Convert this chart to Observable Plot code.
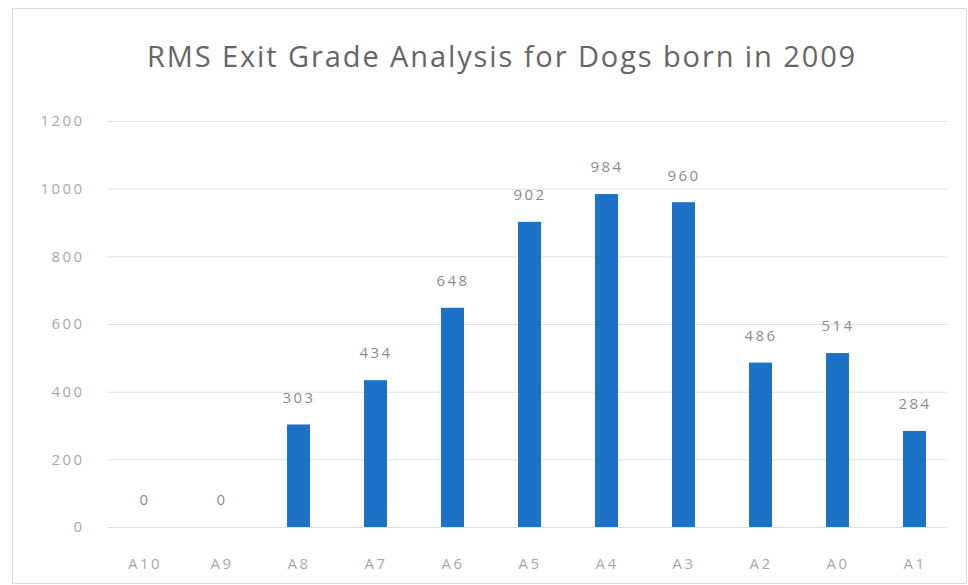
<!DOCTYPE html>
<html><head><meta charset="utf-8">
<script src="https://cdn.jsdelivr.net/npm/d3@7"></script>
<script src="https://cdn.jsdelivr.net/npm/@observablehq/plot@0.6"></script>
<style>
html,body{margin:0;padding:0;background:#fff;}
#wrap{position:relative;width:968px;height:585px;overflow:hidden;font-family:"Open Sans",sans-serif;}
#frame{position:absolute;left:12px;top:8px;width:955px;height:576px;border:1px solid #d9d9d9;box-sizing:border-box;}
#title{position:absolute;left:147px;top:41px;line-height:29px;white-space:nowrap;font-size:29px;color:#666666;font-family:"Open Sans",sans-serif;letter-spacing:1.9px;}
#chart{position:absolute;left:0;top:0;}
#chart svg text{letter-spacing:2.4px;}
</style></head>
<body><div id="wrap"><div id="frame"></div><div id="title">RMS Exit Grade Analysis for Dogs born in 2009</div><div id="chart"></div></div>
<script>
const grades = ["A10","A9","A8","A7","A6","A5","A4","A3","A2","A0","A1"];
const counts = [0,0,303,434,648,902,984,960,486,514,284];
const yTicks = [0,200,400,600,800,1000,1200];
const data = grades.map((g,i)=>({grade:g,count:counts[i]}));
const plot = Plot.plot({
  width:968, height:585,
  marginTop:121, marginBottom:58, marginLeft:106, marginRight:15,
  style:{fontFamily:"Open Sans, sans-serif", fontSize:"15px", color:"#a8a8a8", background:"transparent"},
  x:{domain:grades, paddingInner:0.7, paddingOuter:0.35, label:null, tickSize:0, tickPadding:31},
  y:{domain:[0,1200], ticks:yTicks, label:null, tickSize:0, tickPadding:22, tickFormat:d=>String(d)},
  marks:[
    Plot.ruleY(yTicks,{stroke:"#e0e0e0", insetLeft:1, insetRight:6}),
    Plot.barY(data,{x:"grade", y:"count", fill:"#1c72c6"}),
    Plot.text(data,{x:"grade", y:"count", text:d=>String(d.count), dy:-27, fill:"#8c8c8c", fontSize:15})
  ]
});
document.getElementById("chart").appendChild(plot);
</script></body></html>
